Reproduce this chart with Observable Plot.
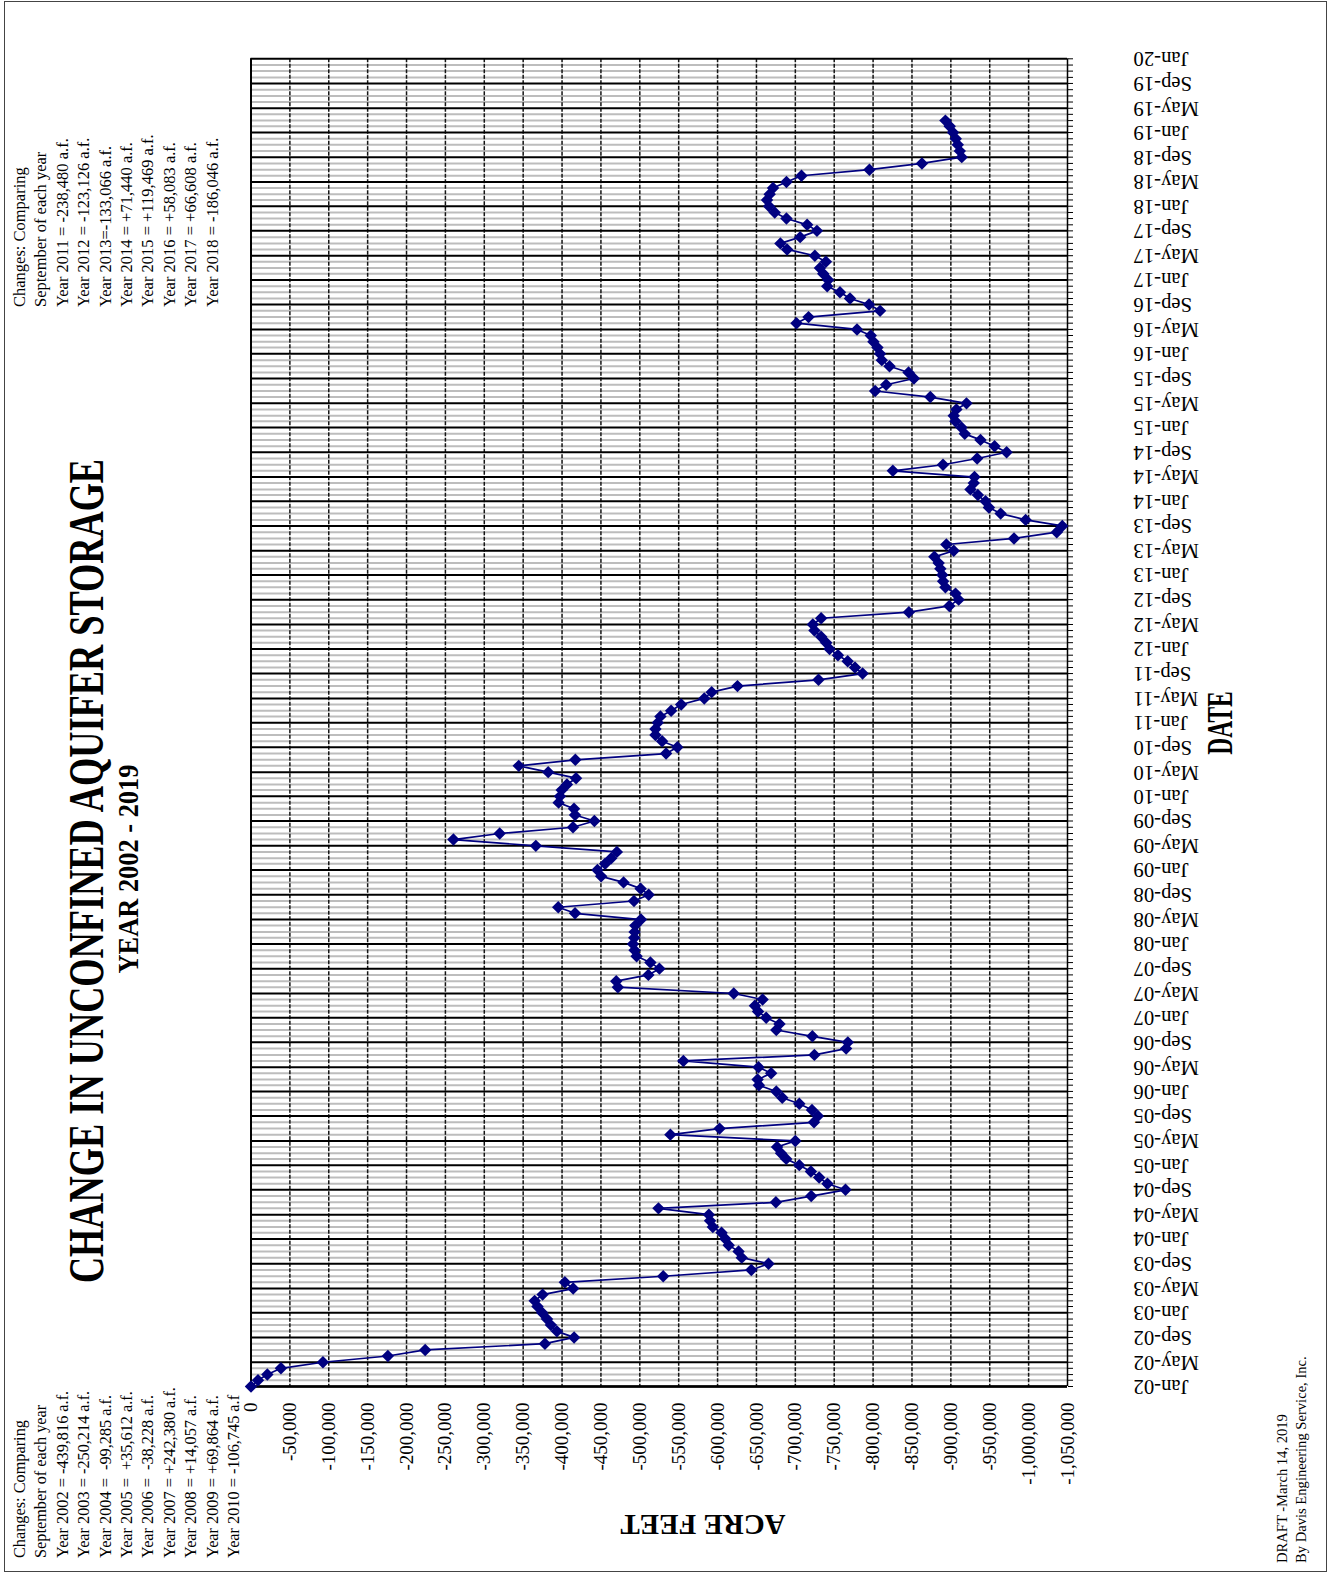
<!DOCTYPE html>
<html><head><meta charset="utf-8">
<script src="https://cdn.jsdelivr.net/npm/d3@7"></script>
<script src="https://cdn.jsdelivr.net/npm/@observablehq/plot@0.6"></script>
<style>
body{margin:0;background:#fff;}
#page{position:relative;width:1331px;height:1574px;font-family:"Liberation Serif","Times New Roman",serif;color:#000;overflow:hidden;}
#page svg{position:absolute;left:0;top:0;}
.t{position:absolute;white-space:pre;line-height:1;}
.blk{position:absolute;white-space:pre;transform-origin:0 0;transform:rotate(-90deg);}
#border{position:absolute;left:4px;top:1px;width:1323px;height:1571px;border:1px solid #444;box-sizing:border-box;}
</style></head>
<body><div id="page"><div id="border"></div></div>
<script>
// Monthly change in unconfined aquifer storage (acre-feet), Jan-2002 .. Mar-2019
const firstMonth = "2002-01";
const storage = [
  0, -9000, -21000, -38500, -92500, -176000, -224000, -378000,
  -415500, -393400, -385700, -380600,
  -374500, -368400, -364800, -375000, -414300, -403600, -530100, -643400, -665500, -631100, -627000, -614300,
  -610200, -605100, -593900, -590300, -588800, -524000, -675000, -720400, -764500, -741300, -730600, -720000,
  -705100, -688300, -681600, -676500, -700000, -539300, -602600, -724000, -729000, -721400, -705100, -683200,
  -675500, -653100, -651500, -668900, -652600, -556000, -724500, -765300, -767500, -721900, -675500, -679600,
  -662500, -652000, -648000, -657900, -620800, -471800, -469700, -511000, -525200, -513600, -495900, -493300,
  -491200, -492900, -493300, -494200, -501500, -416700, -395100, -492500, -511400, -501100, -479100, -450300,
  -445500, -455400, -463200, -470500, -366300, -260300, -319800, -414100, -441600, -416700, -415400, -395600,
  -397300, -399500, -406300, -418000, -382200, -344300, -417100, -533800, -548300, -528700, -520100, -520100,
  -523100, -526500, -540300, -553200, -582900, -592400, -625600, -729800, -786500, -776700, -767300, -754800,
  -744000, -739700, -733200, -724600, -722500, -733200, -846000, -898000, -910000, -906000, -893000, -890000,
  -889000, -886500, -884300, -878800, -903700, -894200, -981200, -1036200, -1043300, -996200, -964000, -948900,
  -944600, -934700, -925200, -929500, -930400, -825400, -889900, -933800, -971700, -956200, -938100, -917900,
  -913600, -905900, -903700, -907100, -920100, -873600, -802600, -816800, -852500, -845600, -821100, -811200,
  -809000, -805600, -800400, -797000, -779300, -701500, -717000, -809000, -794800, -770300, -757400, -741000,
  -742300, -735900, -731600, -739300, -725100, -689400, -680800, -706200, -727800, -715200, -688600, -673500,
  -666200, -663600, -667000, -671300, -688600, -707900, -795300, -862800, -914000, -911500, -908900, -906300,
  -902800, -898500, -893000
];
const valueTicks = [0, -50000, -100000, -150000, -200000, -250000, -300000, -350000, -400000, -450000, -500000,
  -550000, -600000, -650000, -700000, -750000, -800000, -850000, -900000, -950000, -1000000, -1050000];
const valueTickLabels = ["0", "-50,000", "-100,000", "-150,000", "-200,000", "-250,000", "-300,000", "-350,000",
  "-400,000", "-450,000", "-500,000", "-550,000", "-600,000", "-650,000", "-700,000", "-750,000", "-800,000",
  "-850,000", "-900,000", "-950,000", "-1,000,000", "-1,050,000"];
const dateTickLabels = [
  "Jan-02","May-02","Sep-02","Jan-03","May-03","Sep-03","Jan-04","May-04","Sep-04","Jan-05","May-05","Sep-05",
  "Jan-06","May-06","Sep-06","Jan-07","May-07","Sep-07","Jan-08","May-08","Sep-08","Jan-09","May-09","Sep-09",
  "Jan-10","May-10","Sep-10","Jan-11","May-11","Sep-11","Jan-12","May-12","Sep-12","Jan-13","May-13","Sep-13",
  "Jan-14","May-14","Sep-14","Jan-15","May-15","Sep-15","Jan-16","May-16","Sep-16","Jan-17","May-17","Sep-17",
  "Jan-18","May-18","Sep-18","Jan-19","May-19","Sep-19","Jan-20"];
const title = "CHANGE IN UNCONFINED AQUIFER STORAGE";
const subtitle = "YEAR 2002 - 2019";
const xLabel = "ACRE FEET";
const yLabel = "DATE";
const notesEarly = ["Changes: Comparing", "September of each year",
  "Year 2002 = -439,816 a.f.", "Year 2003 = -250,214 a.f.", "Year 2004 =  -99,285 a.f.",
  "Year 2005 =  +35,612 a.f.", "Year 2006 =  -38,228 a.f.", "Year 2007 = +242,380 a.f.",
  "Year 2008 = +14,057 a.f.", "Year 2009 = +69,864 a.f.", "Year 2010 = -106,745 a.f"];
const notesLate = ["Changes: Comparing", "September of each year",
  "Year 2011 = -238,480 a.f.", "Year 2012 = -123,126 a.f.", "Year 2013=-133,066 a.f.",
  "Year 2014 = +71,440 a.f.", "Year 2015 = +119,469 a.f.", "Year 2016 = +58,083 a.f.",
  "Year 2017 = +66,608 a.f.", "Year 2018 = -186,046 a.f."];
const credits = ["DRAFT -March 14, 2019", "By Davis Engineering Service, Inc."];

// ---- build ----
const parseMonth = d3.utcParse("%Y-%m");
const parseTick = d3.utcParse("%b-%y");
const start = parseMonth(firstMonth);
const data = storage.map((v, i) => ({date: d3.utcMonth.offset(start, i), value: v}));
const majorDates = dateTickLabels.map(parseTick);
const minorDates = d3.utcMonth.range(majorDates[0], d3.utcMonth.offset(majorDates[majorDates.length - 1], 1));
const minorOnly = minorDates.filter(d => d.getUTCMonth() % 4 !== 0);
const tickLabelOf = new Map(valueTicks.map((v, i) => [v, valueTickLabels[i]]));
const font = '"Liberation Serif","Times New Roman",serif';
const navy = "#000080";

const chart = Plot.plot({
  width: 1331, height: 1574,
  marginLeft: 250.5, marginRight: 264, marginTop: 58.3, marginBottom: 188,
  style: {background: "transparent", fontFamily: font, color: "#000"},
  x: {domain: [valueTicks[0], valueTicks[valueTicks.length - 1]], axis: null},
  y: {type: "utc", domain: [majorDates[0], majorDates[majorDates.length - 1]], axis: null},
  marks: [
    Plot.ruleY(minorOnly, {stroke: "#bdbdbd", strokeWidth: 2}),
    Plot.ruleX(valueTicks.slice(1, -1), {stroke: "#151515", strokeWidth: 1.5, strokeDasharray: "4,1.5"}),
    Plot.ruleY(majorDates, {stroke: "#000", strokeWidth: 2}),
    Plot.ruleX([valueTicks[0]], {stroke: "#000", strokeWidth: 2}),
    Plot.ruleX([valueTicks[valueTicks.length - 1]], {stroke: "#000", strokeWidth: 1.5}),
    Plot.ruleY([majorDates[0]], {stroke: "#000", strokeWidth: 2.5}),
    Plot.axisY({anchor: "right", ticks: minorDates, tickSize: 5, tickFormat: () => "", label: null, stroke: "#000"}),
    Plot.line(data, {x: "value", y: "date", stroke: navy, strokeWidth: 1.7}),
    Plot.dot(data, {x: "value", y: "date", symbol: "diamond2", fill: navy, r: 5.6}),
    Plot.text(valueTicks, {x: d => d, frameAnchor: "bottom", dy: 16, rotate: -90, textAnchor: "end",
      lineAnchor: "middle", text: d => tickLabelOf.get(d), fontSize: 19, fontFamily: font, fill: "#000"}),
    Plot.text(majorDates, {y: d => d, frameAnchor: "right", dx: 66, rotate: 180, textAnchor: "end",
      lineAnchor: "middle", text: (d, i) => dateTickLabels[i], fontSize: 20.7, fontFamily: font, fill: "#000"})
  ]
});
const page = document.getElementById("page");
page.appendChild(chart);

function addText(txt, css) {
  const el = document.createElement("div");
  el.className = "t";
  el.textContent = txt;
  Object.assign(el.style, css);
  page.appendChild(el);
  return el;
}
function addBlock(lines, css) {
  const el = document.createElement("div");
  el.className = "blk";
  el.textContent = lines.join("\n");
  Object.assign(el.style, css);
  page.appendChild(el);
  return el;
}
addText(title, {left: "86.8px", top: "870.8px", fontWeight: "bold", fontSize: "36.3px",
  transform: "translate(-50%,-50%) rotate(-90deg) scale(1,1.37)"});
addText(subtitle, {left: "127.5px", top: "869px", fontWeight: "bold", fontSize: "26.4px",
  transform: "translate(-50%,-50%) rotate(-90deg) scale(1,1.15)"});
addText(yLabel, {left: "1221px", top: "722.7px", fontWeight: "bold", fontSize: "23.5px",
  transform: "translate(-50%,-50%) rotate(-90deg) scale(1,1.5)"});
addText(xLabel, {left: "702.6px", top: "1523.7px", fontWeight: "bold", fontSize: "29px",
  transform: "translate(-50%,-50%) rotate(180deg)"});
addBlock(notesLate, {left: "9px", top: "307px", fontSize: "16.5px", lineHeight: "21.4px"});
addBlock(notesEarly, {left: "9px", top: "1558px", fontSize: "16.3px", lineHeight: "21.4px"});
addBlock(credits, {left: "1273px", top: "1563px", fontSize: "14.6px", lineHeight: "19px"});
</script>
</body></html>
